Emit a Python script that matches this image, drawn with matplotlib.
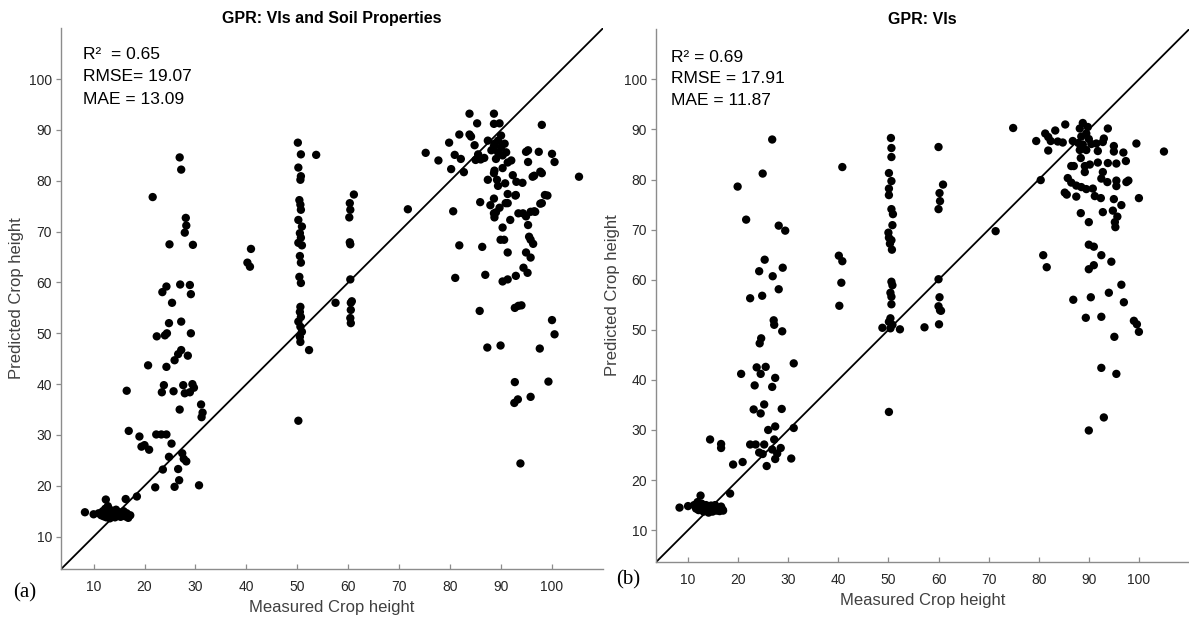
import numpy as np
import matplotlib
matplotlib.use("Agg")
from matplotlib import pyplot as plt

plt.rcParams['font.family'] = ['Liberation Sans', 'DejaVu Sans']

# panel (a): GPR with VIs and soil properties -- (measured, predicted)
points_a = [
    (8.3, 14.8), (10.0, 14.4), (11.0, 14.6), (11.5, 14.2), (11.8, 15.0), (12.0, 14.0),
    (12.3, 15.5), (12.5, 13.8), (12.6, 14.6), (12.8, 16.0), (13.0, 14.2), (13.2, 13.6),
    (13.4, 15.2), (13.6, 14.0), (13.9, 14.8), (14.2, 13.8), (14.4, 15.3), (14.7, 14.2),
    (15.0, 14.8), (15.3, 13.9), (15.6, 14.4), (15.9, 15.0), (16.2, 14.0), (16.5, 14.6),
    (16.8, 13.7), (17.2, 14.2), (12.4, 17.3), (16.3, 17.4), (18.5, 17.9), (22.1, 19.7),
    (26.9, 84.6), (27.2, 82.2), (21.6, 76.8), (28.1, 72.7), (28.2, 71.2), (27.9, 69.8),
    (24.9, 67.5), (29.5, 67.4), (27.0, 59.6), (28.9, 59.5), (24.3, 59.2), (23.5, 58.1),
    (29.1, 57.7), (25.4, 56.0), (27.2, 52.3), (24.8, 52.0), (24.4, 50.0), (22.4, 49.4),
    (24.0, 49.6), (29.1, 50.0), (27.2, 46.7), (26.6, 45.9), (25.9, 44.7), (28.5, 45.6),
    (20.7, 43.7), (24.3, 43.4), (23.8, 39.8), (27.6, 39.8), (29.4, 40.0), (23.4, 38.4),
    (25.7, 38.6), (27.9, 38.2), (28.9, 38.4), (29.7, 39.3), (16.5, 38.7), (26.9, 35.0),
    (31.1, 36.0), (31.4, 34.4), (31.2, 33.5), (16.9, 30.8), (19.0, 29.7), (19.4, 27.7),
    (20.0, 28.0), (20.9, 27.1), (22.3, 30.1), (23.3, 30.1), (24.3, 30.1), (25.3, 28.3),
    (24.8, 25.7), (27.4, 26.4), (27.7, 25.3), (28.2, 24.8), (23.6, 23.2), (26.6, 23.3),
    (26.8, 21.1), (25.9, 19.8), (30.7, 20.1),
    (40.9, 66.6), (40.2, 63.9), (40.7, 63.1),
    (50.1, 87.5), (50.7, 85.2), (53.7, 85.1), (50.2, 82.6), (50.7, 80.9), (50.6, 80.2),
    (50.4, 76.2), (50.6, 75.3), (50.7, 74.3), (50.2, 72.3), (50.9, 71.0), (50.5, 69.7),
    (50.7, 68.8), (50.2, 67.8), (50.9, 67.3), (50.5, 65.2), (50.7, 63.9), (50.4, 61.1),
    (50.7, 59.9), (50.6, 55.2), (50.5, 54.2), (50.7, 53.2), (50.2, 52.3), (50.6, 51.3),
    (50.9, 50.3), (50.5, 49.3), (50.6, 48.3), (52.3, 46.7), (50.2, 32.8),
    (61.1, 77.3), (60.3, 75.6), (60.4, 74.3), (60.2, 72.8), (60.3, 67.9), (60.4, 67.5),
    (60.4, 60.6), (60.7, 56.3), (60.5, 56.0), (60.5, 54.6), (60.4, 53.0), (60.5, 52.0),
    (57.5, 56.0), (71.7, 74.4),
    (75.2, 85.5), (77.7, 84.0), (79.8, 87.5), (80.2, 82.3), (80.9, 85.1), (80.6, 74.0),
    (81.8, 89.1), (82.1, 84.3), (82.7, 81.7), (81.8, 67.3), (81.0, 60.9), (83.8, 93.2),
    (83.8, 89.1), (85.3, 91.3), (84.8, 87.0), (85.0, 84.1), (86.0, 84.2), (85.5, 85.2),
    (85.9, 75.8), (86.3, 67.0), (86.9, 61.5), (85.8, 54.4), (87.3, 47.2), (89.9, 47.6),
    (87.4, 87.9), (87.4, 80.2), (88.6, 93.2), (88.6, 91.2), (89.7, 91.3), (90.0, 88.9),
    (89.4, 87.9), (88.7, 87.3), (88.1, 86.0), (90.0, 86.6), (90.7, 87.3), (91.0, 85.6),
    (90.3, 85.0), (89.0, 84.3), (88.7, 82.0), (90.3, 82.5), (91.3, 83.6), (92.0, 84.0),
    (92.3, 81.1), (93.0, 79.8), (92.9, 77.2), (91.3, 77.4), (91.3, 75.6), (89.4, 79.0),
    (90.8, 79.5), (88.6, 76.5), (87.9, 75.2), (89.7, 74.7), (89.0, 73.8), (88.7, 72.8),
    (90.3, 70.8), (91.8, 72.3), (93.4, 73.6), (94.2, 79.6), (94.9, 85.7), (95.3, 86.0),
    (95.3, 83.7), (96.2, 80.8), (98.0, 91.0), (97.4, 85.7), (98.0, 81.5), (98.6, 77.2),
    (98.0, 75.6), (100.0, 85.3), (100.5, 83.7), (105.3, 80.8), (96.7, 73.9), (95.8, 73.9),
    (94.9, 73.0), (95.3, 71.3), (95.5, 69.0), (95.8, 68.4), (96.3, 67.6), (94.9, 65.9),
    (95.8, 64.9), (94.4, 62.9), (95.2, 61.9), (89.9, 68.4), (90.6, 68.4), (91.3, 65.9),
    (92.9, 61.3), (91.3, 60.6), (90.3, 60.2), (92.7, 55.0), (93.4, 55.4), (94.0, 55.5),
    (100.0, 52.6), (100.5, 49.8), (97.6, 47.0), (92.7, 40.4), (99.3, 40.5), (92.6, 36.3),
    (93.3, 37.0), (95.8, 37.5), (93.8, 24.4), (84.1, 88.7), (86.7, 84.5), (88.6, 86.8),
    (89.4, 85.6), (89.2, 80.2), (88.6, 81.5), (88.6, 73.6), (90.9, 75.6), (92.8, 77.1),
    (94.3, 73.6), (96.5, 74.0), (97.7, 75.5), (99.1, 77.1), (97.7, 81.8), (96.5, 81.0),
]

# panel (b): GPR with VIs only
points_b = [
    (8.3, 14.5), (10.0, 14.8), (12.5, 16.9), (11.2, 15.0), (11.6, 14.3), (11.9, 15.6),
    (12.1, 14.0), (12.4, 14.8), (12.7, 15.3), (12.9, 14.1), (13.1, 13.7), (13.3, 14.6),
    (13.6, 15.0), (13.8, 14.0), (14.1, 13.5), (14.3, 14.4), (14.6, 14.9), (14.9, 13.7),
    (15.1, 14.3), (15.4, 15.0), (15.7, 13.9), (16.0, 14.4), (16.3, 13.8), (16.6, 14.7),
    (16.9, 14.1), (17.0, 13.9), (18.4, 17.3),
    (26.8, 88.0), (24.9, 81.2), (19.9, 78.6), (21.6, 72.0), (28.1, 70.8), (29.4, 69.8),
    (25.3, 64.0), (24.2, 61.7), (26.9, 60.7), (28.9, 62.4), (28.1, 58.1), (22.4, 56.3),
    (24.8, 56.8), (27.1, 51.9), (27.2, 51.0), (28.8, 49.7), (24.6, 48.3), (24.3, 47.3),
    (31.1, 43.3), (20.6, 41.2), (23.7, 42.5), (25.5, 42.6), (24.5, 41.2), (23.3, 38.9),
    (27.4, 40.4), (26.8, 38.6), (23.1, 34.1), (25.2, 35.1), (24.5, 33.3), (28.7, 34.2),
    (26.0, 30.0), (27.4, 30.7), (31.1, 30.4), (14.4, 28.1), (16.6, 27.2), (16.6, 26.4),
    (22.4, 27.1), (23.5, 27.1), (25.2, 27.1), (27.2, 28.1), (24.2, 25.5), (24.9, 25.2),
    (26.8, 26.1), (27.8, 25.3), (28.5, 26.4), (27.4, 24.2), (30.6, 24.3), (25.7, 22.8),
    (19.0, 23.1), (20.9, 23.6),
    (40.8, 82.5), (40.1, 64.8), (40.8, 63.7), (40.6, 59.4), (40.2, 54.8),
    (50.5, 88.3), (50.6, 86.3), (50.6, 84.5), (50.1, 81.3), (50.6, 79.7), (50.1, 78.2),
    (50.1, 76.9), (50.6, 74.1), (50.9, 73.1), (50.8, 70.9), (50.0, 69.4), (50.1, 68.4),
    (50.6, 67.9), (50.3, 67.2), (50.7, 66.0), (50.6, 59.6), (50.8, 58.9), (50.4, 57.4),
    (50.6, 56.6), (50.6, 55.1), (50.4, 52.3), (50.1, 51.6), (50.8, 51.0), (50.4, 50.3),
    (48.8, 50.4), (52.3, 50.1), (50.1, 33.6), (57.2, 50.5),
    (60.0, 86.5), (60.9, 79.0), (60.2, 77.3), (60.3, 75.7), (60.0, 74.1), (60.0, 60.1),
    (60.2, 56.5), (60.0, 54.7), (60.3, 53.9), (60.5, 53.8), (60.1, 51.1), (71.4, 69.7),
    (74.9, 90.3),
    (79.5, 87.7), (81.3, 89.2), (81.9, 88.5), (82.4, 87.7), (81.9, 85.8), (83.3, 89.8),
    (83.8, 87.6), (84.8, 87.4), (85.3, 91.0), (86.8, 87.7), (80.4, 79.9), (80.9, 64.9),
    (81.6, 62.5), (88.2, 90.2), (88.8, 91.3), (89.8, 90.5), (89.5, 89.2), (88.5, 88.6),
    (90.0, 88.1), (87.9, 87.3), (88.8, 87.0), (90.5, 87.1), (91.5, 87.2), (91.8, 85.7),
    (89.5, 85.9), (88.2, 85.9), (88.4, 84.3), (93.8, 90.2), (93.0, 88.2), (92.8, 87.5),
    (95.0, 86.7), (95.0, 85.6), (96.9, 85.4), (99.5, 87.2), (105.0, 85.6), (86.5, 82.7),
    (87.0, 82.7), (89.2, 82.7), (90.2, 83.0), (91.8, 83.4), (93.8, 83.3), (95.5, 83.2),
    (97.4, 83.7), (89.2, 81.5), (92.8, 81.5), (92.5, 80.2), (93.7, 79.5), (95.5, 79.8),
    (95.5, 78.7), (97.9, 79.8), (97.5, 79.5), (85.8, 80.3), (86.5, 79.4), (87.5, 78.8),
    (88.5, 78.5), (89.5, 78.1), (90.8, 78.2), (91.2, 76.7), (85.6, 77.0), (85.2, 77.4),
    (87.5, 76.6), (92.4, 76.3), (95.0, 76.1), (96.5, 74.9), (100.0, 76.3), (92.8, 73.5),
    (94.8, 73.8), (95.7, 72.6), (95.2, 71.5), (95.3, 70.5), (88.4, 73.3), (90.0, 71.5),
    (90.0, 67.0), (91.0, 66.6), (92.5, 64.9), (94.5, 63.6), (91.0, 62.9), (90.0, 62.1),
    (96.5, 59.0), (94.0, 57.4), (86.9, 56.0), (90.4, 56.5), (97.0, 55.5), (89.4, 52.4),
    (92.5, 52.6), (99.0, 51.8), (99.6, 51.1), (100.0, 49.6), (95.1, 48.6), (92.5, 42.4),
    (95.5, 41.2), (93.0, 32.5), (90.0, 29.9),
]

titles = ["GPR: VIs and Soil Properties", "GPR: VIs"]
stats = [["R\u00b2  = 0.65", "RMSE= 19.07", "MAE = 13.09"],
         ["R\u00b2 = 0.69", "RMSE = 17.91", "MAE = 11.87"]]
ticks = [10, 20, 30, 40, 50, 60, 70, 80, 90, 100]
panel_tags = ["(a)", "(b)"]

fig = plt.figure(figsize=(11.89, 6.19), dpi=100)
rects = [[0.0513, 0.0813, 0.4558, 0.873], [0.5517, 0.0926, 0.4483, 0.860]]
text_x = [0.041, 0.028]
text_y = [[0.952, 0.910, 0.869], [0.948, 0.908, 0.867]]
tag_pos = [(0.021, 0.042), (0.528, 0.063)]

for i, pts in enumerate([points_a, points_b]):
    ax = fig.add_axes(rects[i])
    arr = np.array(pts)
    ax.plot([0, 120], [0, 120], color='black', lw=1.3, zorder=2)
    ax.scatter(arr[:, 0], arr[:, 1], s=36, color='black', edgecolors='none', zorder=3)
    ax.set_xlim(3.6, 110)
    ax.set_ylim(3.7, 110)
    ax.set_xticks(ticks)
    ax.set_yticks(ticks)
    for side in ['top', 'right']:
        ax.spines[side].set_visible(False)
    for side in ['left', 'bottom']:
        ax.spines[side].set_color('#8c8c8c')
        ax.spines[side].set_linewidth(1.0)
    ax.tick_params(axis='x', direction='in', length=3.5, width=0.9, color='#8c8c8c',
                   labelsize=10, labelcolor='#262626', pad=8)
    ax.tick_params(axis='y', direction='out', length=3.5, width=0.9, color='#8c8c8c',
                   labelsize=10, labelcolor='#262626', pad=3)
    ax.set_xlabel("Measured Crop height", fontsize=12, color='#404040')
    ax.set_ylabel("Predicted Crop height", fontsize=12, color='#404040')
    ax.xaxis.set_label_coords(0.5, -0.058)
    ax.yaxis.set_label_coords(-0.068, 0.5)
    ax.set_title(titles[i], fontsize=11.5, fontweight='bold', pad=4)
    for line, yy in zip(stats[i], text_y[i]):
        ax.text(text_x[i], yy, line, transform=ax.transAxes, fontsize=12.5,
                va='center', ha='left', color='black')
    fig.text(tag_pos[i][0], tag_pos[i][1], panel_tags[i], fontsize=15,
             family=['Liberation Serif', 'DejaVu Serif'], ha='center', va='center')

fig.savefig("out.png", dpi=100)
